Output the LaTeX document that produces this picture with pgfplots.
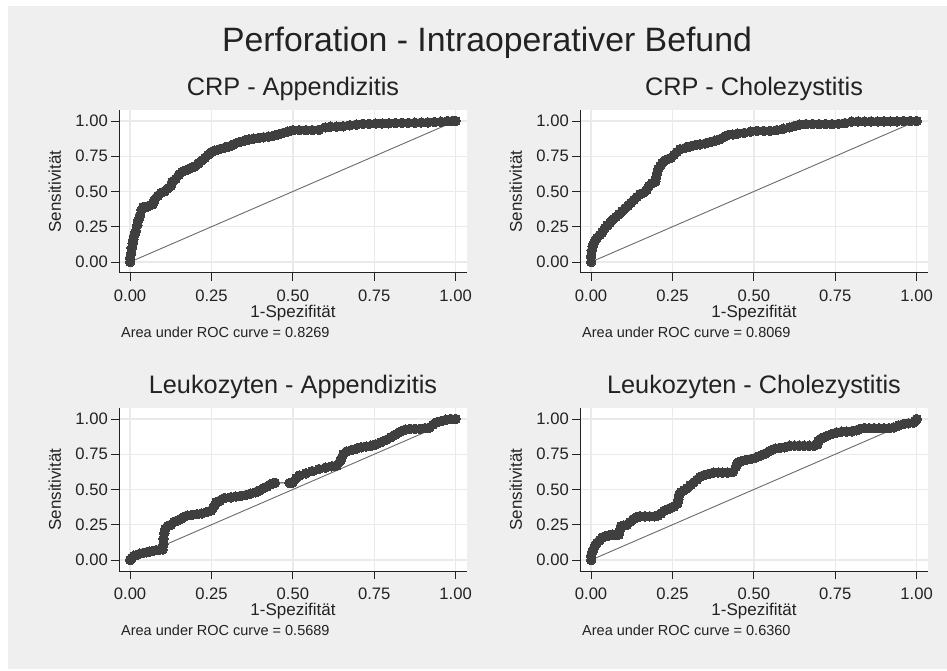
\documentclass[border=0pt]{standalone}
\usepackage{fontspec}
\setmainfont{Liberation Sans}
\usepackage{pgfplots}
\pgfplotsset{compat=1.18}
\definecolor{outerbg}{HTML}{EFEFEF}
\definecolor{gridc}{HTML}{EAEAEA}
\definecolor{markc}{HTML}{3F3F3F}
\definecolor{diagc}{HTML}{6A6A6A}
\definecolor{axc}{HTML}{222222}
\definecolor{textc}{HTML}{222222}
\pgfplotsset{
 rocax/.style={
  scale only axis, width=348pt, height=163pt,
  anchor=south west, clip=false,
  xmin=-0.034, xmax=1.035, ymin=-0.078, ymax=1.078,
  axis x line*=bottom, axis y line*=left,
  axis line style={axc, line width=1pt, -},
  xtick={0,0.25,0.5,0.75,1}, ytick={0,0.25,0.5,0.75,1},
  xticklabels={0.00,0.25,0.50,0.75,1.00},
  yticklabels={0.00,0.25,0.50,0.75,1.00},
  tick align=outside, major tick length=8pt,
  every tick/.style={axc, line width=0.9pt},
  grid=major, major grid style={gridc, line width=1.4pt},
  axis background/.style={fill=white},
  tick label style={font=\fontsize{16.6}{20}\selectfont, text=textc, inner sep=0pt},
  xticklabel style={anchor=base, yshift=-20pt},
  yticklabel style={anchor=east, xshift=-3pt},
  title style={at={(0.5,1.0509)}, anchor=base, font=\fontsize{25.3}{30}\selectfont, text=textc, inner sep=0pt},
  every axis x label/.style={at={(axis description cs:0.5,-0.271)}, anchor=base, font=\fontsize{17}{20}\selectfont, text=textc, inner sep=0pt},
  every axis y label/.style={at={(axis description cs:-0.1667,0.5)}, rotate=90, anchor=base, font=\fontsize{17}{20}\selectfont, text=textc, inner sep=0pt},
  xlabel={1-Spezifität}, ylabel={Sensitivität},
 },
 rocline/.style={markc, line width=1pt, mark=*, mark size=4.8pt, mark options={fill=markc, draw=markc, line width=0pt}},
 diagline/.style={diagc, line width=0.9pt, no marks},
}
\newcommand{\aucnote}[1]{\node[anchor=base west, font=\fontsize{14.5}{17}\selectfont, text=textc, inner sep=0pt] at (axis description cs:0.0057,-0.394) {#1};}
\begin{document}
\begin{tikzpicture}[x=1pt,y=1pt]
\useasboundingbox (0,0) rectangle (947,670);
\fill[white] (0,0) rectangle (947,670);
\fill[outerbg] (8,1) rectangle (947,664);
\node[font=\fontsize{33.8}{38}\selectfont, anchor=base, text=textc, inner sep=0pt] at (487,618) {Perforation - Intraoperativer Befund};

% CRP - Appendizitis
\begin{axis}[rocax, at={(119pt,397pt)}, title={CRP - Appendizitis}]
\addplot[rocline] coordinates {
(0,0) (0,0.03) (0.003,0.06) (0.005,0.10) (0.008,0.13) (0.01,0.16) (0.013,0.19) (0.018,0.22) (0.022,0.26) (0.026,0.30) (0.03,0.33) (0.035,0.37) (0.04,0.39) (0.05,0.39) (0.06,0.40) (0.07,0.41) (0.075,0.44) (0.085,0.47) (0.095,0.49) (0.105,0.50) (0.115,0.52) (0.125,0.54) (0.13,0.57) (0.14,0.59) (0.15,0.62) (0.16,0.64) (0.17,0.65) (0.18,0.66) (0.19,0.67) (0.20,0.68) (0.21,0.70) (0.22,0.72) (0.23,0.74) (0.24,0.76) (0.25,0.78) (0.26,0.79) (0.275,0.80) (0.29,0.81) (0.305,0.82) (0.32,0.835) (0.335,0.85) (0.35,0.86) (0.365,0.87) (0.38,0.875) (0.395,0.88) (0.41,0.885) (0.425,0.89) (0.44,0.895) (0.455,0.905) (0.47,0.915) (0.485,0.925) (0.50,0.935) (0.52,0.935) (0.54,0.935) (0.56,0.935) (0.58,0.937) (0.60,0.955) (0.615,0.96) (0.635,0.96) (0.655,0.963) (0.675,0.97) (0.695,0.975) (0.715,0.98) (0.735,0.98) (0.755,0.982) (0.775,0.983) (0.795,0.984) (0.815,0.985) (0.835,0.987) (0.855,0.987) (0.875,0.988) (0.895,0.99) (0.915,0.99) (0.935,0.993) (0.955,0.995) (0.975,1) (0.99,1) (1,1)
};
\addplot[diagline] coordinates {(0,0) (1,1)};
\aucnote{Area under ROC curve = 0.8269}
\end{axis}

% CRP - Cholezystitis
\begin{axis}[rocax, at={(580pt,397pt)}, title={CRP - Cholezystitis}]
\addplot[rocline] coordinates {
(0,0) (0,0.04) (0.002,0.08) (0.005,0.11) (0.008,0.13) (0.012,0.15) (0.018,0.17) (0.026,0.19) (0.034,0.21) (0.042,0.24) (0.05,0.26) (0.058,0.28) (0.066,0.30) (0.076,0.32) (0.086,0.34) (0.095,0.36) (0.104,0.38) (0.113,0.40) (0.122,0.42) (0.131,0.44) (0.14,0.46) (0.15,0.48) (0.16,0.49) (0.17,0.51) (0.178,0.54) (0.188,0.56) (0.197,0.57) (0.200,0.60) (0.203,0.63) (0.206,0.66) (0.212,0.68) (0.218,0.70) (0.226,0.72) (0.236,0.73) (0.246,0.74) (0.255,0.76) (0.264,0.78) (0.274,0.80) (0.29,0.81) (0.305,0.82) (0.32,0.83) (0.335,0.835) (0.35,0.84) (0.365,0.85) (0.38,0.86) (0.395,0.87) (0.41,0.89) (0.42,0.90) (0.435,0.905) (0.45,0.91) (0.47,0.915) (0.49,0.925) (0.51,0.93) (0.53,0.93) (0.55,0.93) (0.57,0.935) (0.59,0.945) (0.61,0.955) (0.625,0.965) (0.64,0.975) (0.66,0.978) (0.68,0.978) (0.70,0.978) (0.72,0.978) (0.74,0.978) (0.76,0.98) (0.78,0.985) (0.80,0.995) (0.82,0.997) (0.84,0.997) (0.86,0.997) (0.88,0.997) (0.90,0.998) (0.92,0.998) (0.94,0.998) (0.96,0.999) (0.98,1) (1,1)
};
\addplot[diagline] coordinates {(0,0) (1,1)};
\aucnote{Area under ROC curve = 0.8069}
\end{axis}

% Leukozyten - Appendizitis
\begin{axis}[rocax, at={(119pt,99pt)}, title={Leukozyten - Appendizitis}]
\addplot[rocline] coordinates {
(0,0) (0.005,0.015) (0.012,0.03) (0.02,0.035) (0.03,0.045) (0.04,0.05) (0.05,0.055) (0.06,0.06) (0.07,0.065) (0.08,0.07) (0.09,0.072) (0.1,0.075) (0.102,0.11) (0.103,0.15) (0.105,0.19) (0.108,0.22) (0.115,0.24) (0.125,0.25) (0.135,0.27) (0.145,0.28) (0.155,0.29) (0.165,0.305) (0.175,0.315) (0.19,0.32) (0.205,0.325) (0.22,0.33) (0.235,0.34) (0.248,0.35) (0.255,0.37) (0.26,0.39) (0.265,0.41) (0.275,0.42) (0.29,0.44) (0.31,0.445) (0.325,0.45) (0.34,0.455) (0.355,0.46) (0.37,0.47) (0.385,0.48) (0.4,0.495) (0.41,0.51) (0.42,0.52) (0.43,0.535) (0.44,0.545) (0.445,0.547) (0.49,0.547) (0.5,0.55) (0.51,0.58) (0.52,0.60) (0.54,0.615) (0.56,0.63) (0.58,0.645) (0.60,0.655) (0.62,0.665) (0.635,0.67) (0.645,0.70) (0.65,0.725) (0.655,0.75) (0.665,0.77) (0.68,0.78) (0.695,0.79) (0.71,0.80) (0.725,0.805) (0.74,0.81) (0.755,0.82) (0.77,0.835) (0.785,0.85) (0.80,0.87) (0.815,0.89) (0.83,0.91) (0.845,0.925) (0.86,0.93) (0.875,0.93) (0.89,0.93) (0.905,0.935) (0.92,0.94) (0.93,0.96) (0.94,0.975) (0.955,0.985) (0.97,0.995) (0.985,1) (1,1)
};
\addplot[diagline] coordinates {(0,0) (1,1)};
\aucnote{Area under ROC curve = 0.5689}
\end{axis}

% Leukozyten - Cholezystitis
\begin{axis}[rocax, at={(580pt,99pt)}, title={Leukozyten - Cholezystitis}]
\addplot[rocline] coordinates {
(0,0) (0,0.03) (0.004,0.06) (0.008,0.08) (0.012,0.10) (0.018,0.12) (0.026,0.14) (0.034,0.16) (0.044,0.17) (0.055,0.175) (0.065,0.18) (0.075,0.18) (0.085,0.18) (0.088,0.21) (0.092,0.24) (0.1,0.245) (0.11,0.25) (0.12,0.27) (0.13,0.29) (0.14,0.305) (0.15,0.31) (0.165,0.31) (0.18,0.31) (0.195,0.31) (0.205,0.315) (0.215,0.33) (0.225,0.35) (0.235,0.36) (0.245,0.37) (0.255,0.38) (0.265,0.40) (0.268,0.43) (0.27,0.46) (0.275,0.48) (0.285,0.495) (0.295,0.51) (0.305,0.53) (0.315,0.55) (0.325,0.57) (0.335,0.59) (0.345,0.60) (0.36,0.61) (0.375,0.62) (0.39,0.62) (0.405,0.62) (0.42,0.62) (0.435,0.625) (0.445,0.66) (0.45,0.69) (0.46,0.70) (0.475,0.71) (0.49,0.715) (0.505,0.725) (0.52,0.74) (0.535,0.755) (0.55,0.775) (0.565,0.79) (0.58,0.795) (0.595,0.80) (0.61,0.81) (0.625,0.81) (0.64,0.81) (0.655,0.81) (0.67,0.81) (0.685,0.81) (0.695,0.82) (0.698,0.845) (0.705,0.86) (0.715,0.87) (0.725,0.88) (0.74,0.895) (0.755,0.905) (0.77,0.91) (0.785,0.91) (0.80,0.912) (0.815,0.92) (0.825,0.93) (0.84,0.935) (0.855,0.935) (0.87,0.935) (0.885,0.935) (0.90,0.935) (0.915,0.935) (0.93,0.94) (0.945,0.955) (0.96,0.965) (0.975,0.97) (0.99,0.975) (0.995,0.985) (1,1)
};
\addplot[diagline] coordinates {(0,0) (1,1)};
\aucnote{Area under ROC curve = 0.6360}
\end{axis}
\end{tikzpicture}
\end{document}
